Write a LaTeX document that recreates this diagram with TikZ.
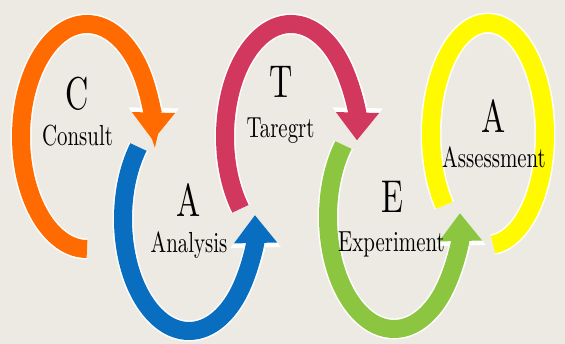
\documentclass[tikz,border=0pt]{standalone}
\usepackage{fontspec}
\setmainfont{lmroman10-regular.otf}
\usetikzlibrary{arrows.meta}

\definecolor{paper}{RGB}{236,234,227}
\definecolor{catorange}{RGB}{255,107,0}
\definecolor{catblue}{RGB}{10,110,192}
\definecolor{catred}{RGB}{210,56,94}
\definecolor{catgreen}{RGB}{140,198,65}
\definecolor{catyellow}{RGB}{255,250,0}

\tikzset{
  band/.style={line width=18pt, preaction={draw=white, line width=21pt}},
  head/.style={-{Triangle[length=0pt 1.55, width=0pt 2.3]}},
  letter/.style={font=\fontsize{46}{48}\selectfont, xscale=0.7, anchor=base, inner sep=0pt},
  word/.style={font=\fontsize{29}{31}\selectfont, xscale=0.72, anchor=base, inner sep=0pt}
}

\begin{document}
\begin{tikzpicture}[x=1pt, y=1pt]
  \useasboundingbox (0,0) rectangle (565,344);
  \fill[paper] (0,0) rectangle (565,344);

  % the five loops, left to right
  \draw[band, head, catorange] ([shift={(87,207.5)}]270:66pt and 112.5pt)
    arc[start angle=270, end angle=-2, x radius=66pt, y radius=112.5pt];
  \draw[band, head, catblue] ([shift={(189,125)}]140:66pt and 112pt)
    arc[start angle=140, end angle=362, x radius=66pt, y radius=112pt];
  \draw[band, head, catred] ([shift={(291,207.5)}]220:66pt and 112.5pt)
    arc[start angle=220, end angle=-2, x radius=66pt, y radius=112.5pt];
  \draw[band, head, catgreen] ([shift={(394,127)}]140:66pt and 112pt)
    arc[start angle=140, end angle=362, x radius=66pt, y radius=112pt];
  \draw[band, catyellow] ([shift={(488,210)}]220:57pt and 111pt)
    arc[start angle=220, end angle=-85, x radius=57pt, y radius=111pt];

  % letters and words
  \draw
    (77.5,234) node[letter] (c) {C}
    (77.5,198) node[word] (consult) {Consult}
    (188.5,127) node[letter] (a1) {A}
    (189,91) node[word] (analysis) {Analysis}
    (281,246) node[letter] (t) {T}
    (280.5,206) node[word] (target) {Taregrt}
    (392.5,131) node[letter] (e) {E}
    (391.5,92) node[word] (experiment) {Experiment}
    (494,211) node[letter] (a2) {A}
    (494,176) node[word] (assessment) {Assessment};
\end{tikzpicture}
\end{document}
